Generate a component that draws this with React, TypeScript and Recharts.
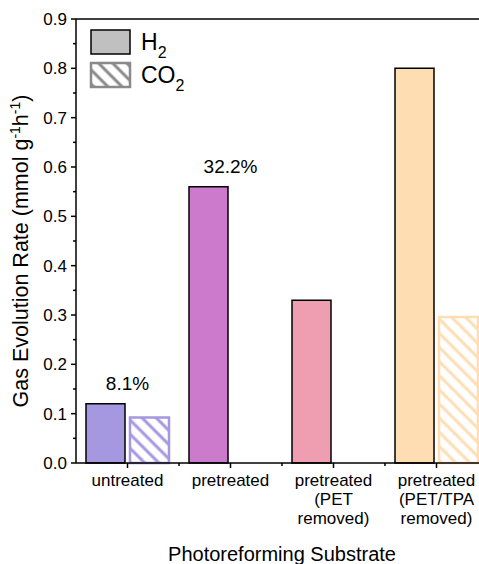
import React from 'react';
import { BarChart, Bar, XAxis, YAxis, Cell, LabelList, ReferenceLine, Label } from 'recharts';

const FONT = '"Liberation Sans", Arial, Helvetica, sans-serif';

// Photoreforming substrates (line breaks split the tick label)
const substrates = [
  'untreated',
  'pretreated',
  'pretreated\n(PET\nremoved)',
  'pretreated\n(PET/TPA\nremoved)',
];
// Gas evolution rates, mmol g^-1 h^-1
const h2Rate = [0.12, 0.56, 0.33, 0.8];
const co2Rate: (number | null)[] = [0.092, null, null, 0.296];
// Efficiency labels shown above the groups
const h2Efficiency = ['8.1%', '32.2%', '', ''];
const yTickValues = [0, 0.1, 0.2, 0.3, 0.4, 0.5, 0.6, 0.7, 0.8, 0.9];
const substrateColors = ['#A597E0', '#CC7ACC', '#EE9EB0', '#FFDDB3'];
const seriesNames = ['H2', 'CO2'];

const Y_MAX = yTickValues[yTickValues.length - 1];
const BAR_SIZE = 39;
const BAR_GAP = 5;

const data = substrates.map((name, i) => ({
  name,
  H2: h2Rate[i],
  CO2: co2Rate[i],
  pct: h2Efficiency[i],
}));

// major ticks plus a minor tick halfway between each pair
const yAllTicks = yTickValues.flatMap((v, i) =>
  i === 0 ? [v] : [(v + yTickValues[i - 1]) / 2, v]
);

const ValueTick = (props: any) => {
  const { x, y, payload } = props;
  const major = yTickValues.includes(payload.value);
  return (
    <g>
      <line x1={x} x2={x - (major ? 5 : 3)} y1={y} y2={y} stroke="#000" strokeWidth={1.5} />
      {major && (
        <text
          x={x - 9}
          y={y}
          dy="0.36em"
          textAnchor="end"
          fontSize={17}
          fontFamily={FONT}
          fill="#000"
        >
          {Number(payload.value).toFixed(1)}
        </text>
      )}
    </g>
  );
};

const CategoryTick = (props: any) => {
  const { x, y, payload, width, visibleTicksCount } = props;
  const half =
    payload && typeof payload.offset === 'number' && payload.offset > 0
      ? payload.offset
      : width / visibleTicksCount / 2;
  const lines = String(payload.value).split('\n');
  return (
    <g>
      <line x1={x} x2={x} y1={y} y2={y + 5} stroke="#000" strokeWidth={1.5} />
      <line x1={x + half} x2={x + half} y1={y} y2={y + 3} stroke="#000" strokeWidth={1.5} />
      <text x={x} y={y} textAnchor="middle" fontSize={17} fontFamily={FONT} fill="#000">
        {lines.map((l, i) => (
          <tspan key={i} x={x} dy={i === 0 ? 23 : 19}>
            {l}
          </tspan>
        ))}
      </text>
    </g>
  );
};

const XTitle = (props: any) => {
  const vb = props.viewBox || {};
  return (
    <text
      x={vb.x + vb.width / 2}
      y={vb.y + vb.height - 3}
      textAnchor="middle"
      fontSize={20}
      fontFamily={FONT}
      fill="#000"
    >
      Photoreforming Substrate
    </text>
  );
};

const YTitle = (props: any) => {
  const vb = props.viewBox || {};
  const cx = vb.x + 28;
  const cy = vb.y + vb.height / 2 + 10;
  return (
    <text
      x={cx}
      y={cy}
      transform={`rotate(-90, ${cx}, ${cy})`}
      textAnchor="middle"
      fontSize={21.5}
      fontFamily={FONT}
      fill="#000"
    >
      Gas Evolution Rate (mmol g
      <tspan dy={-8} fontSize={14}>-1</tspan>
      <tspan dy={8}>h</tspan>
      <tspan dy={-8} fontSize={14}>-1</tspan>
      <tspan dy={8}>)</tspan>
    </text>
  );
};

const PctLabel = (props: any) => {
  const { x, y, width, value } = props;
  if (!value) return null;
  return (
    <text
      x={x + width + BAR_GAP / 2}
      y={y - 14}
      textAnchor="middle"
      fontSize={19}
      fontFamily={FONT}
      fill="#000"
    >
      {value}
    </text>
  );
};

const legendSwatches = [
  { fill: '#C0C0C0', stroke: '#000', strokeWidth: 1.5 },
  { fill: 'url(#hatch-grey)', stroke: '#8A8A8A', strokeWidth: 2.5 },
];

const ChartLegend = () => (
  <g>
    {seriesNames.map((name, i) => {
      const sw = legendSwatches[i];
      const top = 30 + i * 33;
      const base = name.replace(/\d+$/, '');
      const sub = name.slice(base.length);
      return (
        <g key={name}>
          <rect x={91} y={top} width={39} height={24} fill={sw.fill} stroke={sw.stroke} strokeWidth={sw.strokeWidth} />
          <text x={141} y={top + 20} fontSize={23} fontFamily={FONT} fill="#000">
            {base}
            <tspan dy={8} fontSize={16}>{sub}</tspan>
          </text>
        </g>
      );
    })}
  </g>
);

const Hatch = ({ id, color }: { id: string; color: string }) => (
  <pattern id={id} patternUnits="userSpaceOnUse" width={10} height={10} patternTransform="rotate(45)">
    <rect x={0} y={0} width={10} height={10} fill="#fff" />
    <line x1={0} y1={5} x2={10} y2={5} stroke={color} strokeWidth={3} />
  </pattern>
);

export default function App() {
  return (
    <div
      style={{
        position: 'fixed',
        left: 0,
        top: 0,
        width: 479,
        height: 564,
        overflow: 'hidden',
        background: '#fff',
      }}
    >
      <BarChart
        width={490}
        height={564}
        data={data}
        margin={{ top: 19, right: 2, left: 0, bottom: 0 }}
        barSize={BAR_SIZE}
        barGap={BAR_GAP}
      >
        <defs>
          <Hatch id="hatch-grey" color="#8A8A8A" />
          {substrateColors.map((c, i) => (
            <Hatch key={i} id={`hatch-${i}`} color={c} />
          ))}
        </defs>
        <XAxis
          dataKey="name"
          height={101}
          interval={0}
          tickSize={0}
          tickMargin={0}
          tickLine={false}
          axisLine={{ stroke: '#000', strokeWidth: 1.5 }}
          tick={<CategoryTick />}
        >
          <Label content={XTitle} />
        </XAxis>
        <YAxis
          width={76}
          domain={[0, Y_MAX]}
          ticks={yAllTicks}
          interval={0}
          tickSize={0}
          tickMargin={0}
          tickLine={false}
          axisLine={{ stroke: '#000', strokeWidth: 1.5 }}
          tick={<ValueTick />}
        >
          <Label content={YTitle} />
        </YAxis>
        <ReferenceLine y={Y_MAX} stroke="#000" strokeWidth={1.5} />
        <Bar dataKey="H2" name={seriesNames[0]} fill="#C0C0C0" stroke="#000" strokeWidth={1.5} isAnimationActive={false}>
          {data.map((_, i) => (
            <Cell key={i} fill={substrateColors[i]} />
          ))}
          <LabelList dataKey="pct" content={PctLabel} />
        </Bar>
        <Bar dataKey="CO2" name={seriesNames[1]} fill="url(#hatch-grey)" strokeWidth={2.5} isAnimationActive={false}>
          {data.map((_, i) => (
            <Cell key={i} fill={`url(#hatch-${i})`} stroke={substrateColors[i]} />
          ))}
        </Bar>
        <ChartLegend />
      </BarChart>
    </div>
  );
}
